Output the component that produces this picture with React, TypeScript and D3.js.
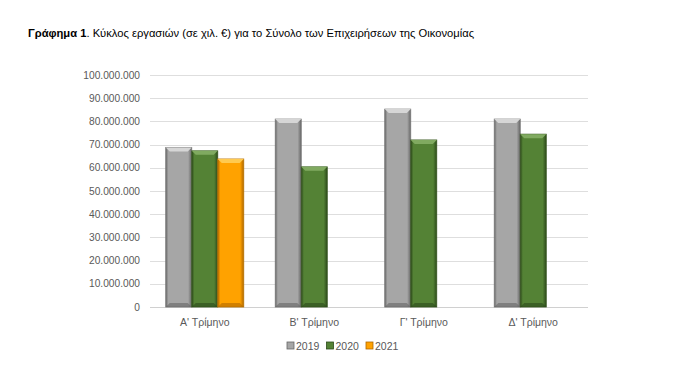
import React from "react";
import * as d3 from "d3";

const categories = ["Α' Τρίμηνο", "Β' Τρίμηνο", "Γ' Τρίμηνο", "Δ' Τρίμηνο"];
const seriesNames = ["2019", "2020", "2021"];
const values2019 = [68800000, 81000000, 85300000, 81000000];
const values2020 = [67300000, 60400000, 72000000, 74500000];
const values2021 = [63800000, null, null, null];
const yTicks = [0, 10000000, 20000000, 30000000, 40000000, 50000000, 60000000, 70000000, 80000000, 90000000, 100000000];

const seriesValues = [values2019, values2020, values2021];
const colors = [
  { base: "#a6a6a6", dark: "#666666", light: "#d6d6d6", edge: "#777777" },
  { base: "#548235", dark: "#2c4a1a", light: "#80aa60", edge: "#36561f" },
  { base: "#ffa200", dark: "#b06800", light: "#ffca50", edge: "#b97300" },
];

const W = 700, H = 377;
const left = 150, right = 588, top = 75, bottom = 307;

const fmt = (v: number) => (v === 0 ? "0" : d3.format(",")(v).replace(/,/g, "."));

export default function App() {
  const x0 = d3.scaleBand<string>().domain(categories).range([left, right]).padding(0);
  const x1 = d3.scaleBand<string>().domain(seriesNames).range([0, x0.bandwidth()]).paddingInner(0).paddingOuter(0.605);
  const y = d3.scaleLinear().domain([0, 100000000]).range([bottom, top]);
  const bw = x1.bandwidth();
  const font = "Liberation Sans, Arial, sans-serif";

  return (
    <svg width={W} height={H} style={{ position: "absolute", left: 0, top: 0, background: "#fff" }}>
      <defs>
        {colors.map((c, i) => (
          <linearGradient key={i} id={`g${i}`} x1="0" x2="1" y1="0" y2="0">
            <stop offset="0" stopColor={c.dark} />
            <stop offset="0.1" stopColor={c.base} />
            <stop offset="0.5" stopColor={c.base} />
            <stop offset="0.86" stopColor={c.base} />
            <stop offset="1" stopColor={c.dark} />
          </linearGradient>
        ))}
      </defs>
      <text x={28} y={37} fontFamily={font} fontSize={11.2} fill="#000">
        <tspan fontWeight="bold">Γράφημα 1</tspan>
        <tspan>.  Κύκλος εργασιών (σε χιλ. €) για το Σύνολο των Επιχειρήσεων της Οικονομίας</tspan>
      </text>
      {yTicks.map((t) => (
        <g key={t}>
          <line x1={left} x2={right} y1={Math.round(y(t)) + 0.5} y2={Math.round(y(t)) + 0.5} stroke={t === 0 ? "#d0d0d0" : "#dedede"} strokeWidth={1} />
          <text x={140} y={y(t) + 3.5} textAnchor="end" fontFamily={font} fontSize={10.2} fill="#595959">{fmt(t)}</text>
        </g>
      ))}
      {categories.map((cat, ci) => (
        <g key={cat}>
          {seriesNames.map((s, si) => {
            const v = seriesValues[si][ci];
            if (v == null) return null;
            const bx = (x0(cat) as number) + (x1(s) as number);
            const by = y(v);
            const h = bottom - by;
            const c = colors[si];
            const bev = 4;
            return (
              <g key={s}>
                <rect x={bx} y={by} width={bw} height={h} fill={`url(#g${si})`} stroke={c.edge} strokeWidth={0.8} />
                <polygon
                  points={`${bx},${by} ${bx + bw},${by} ${bx + bw - bev},${by + bev} ${bx + bev},${by + bev}`}
                  fill={c.light}
                />
                <polygon
                  points={`${bx},${bottom} ${bx + bw},${bottom} ${bx + bw - bev},${bottom - bev} ${bx + bev},${bottom - bev}`}
                  fill={c.dark}
                  opacity={0.6}
                />
              </g>
            );
          })}
          <text x={(x0(cat) as number) + x0.bandwidth() / 2} y={326} textAnchor="middle" fontFamily={font} fontSize={10.5} fill="#595959">{cat}</text>
        </g>
      ))}
      {seriesNames.map((s, si) => {
        const lx = 287 + si * 39.5;
        const c = colors[si];
        return (
          <g key={s}>
            <rect x={lx} y={342} width={7} height={7} fill={c.base} stroke={c.dark} strokeWidth={0.8} />
            <text x={lx + 9} y={349.5} fontFamily={font} fontSize={10.5} fill="#595959">{s}</text>
          </g>
        );
      })}
    </svg>
  );
}
